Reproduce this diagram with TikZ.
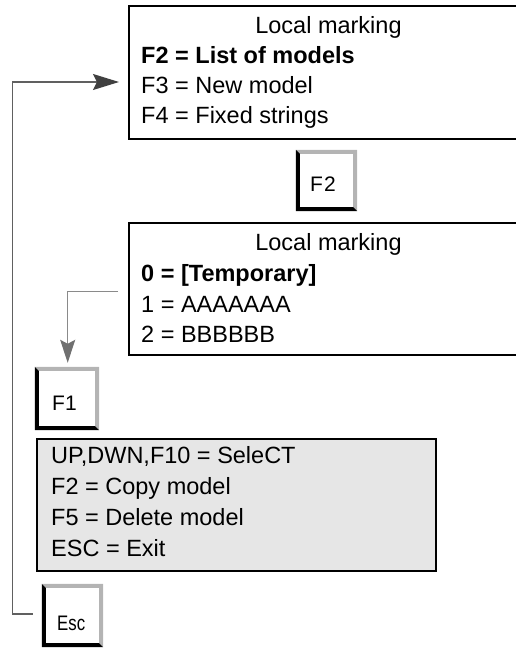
\documentclass[tikz,border=0pt]{standalone}
\usepackage{fontspec}
\usepackage{graphicx}
\setmainfont{Liberation Sans}
\usetikzlibrary{arrows.meta,calc}
\definecolor{keygray}{HTML}{B4B4B4}
\definecolor{panelgray}{HTML}{E6E6E6}
\definecolor{linegray}{HTML}{606060}
\definecolor{tipgray}{HTML}{404040}
\definecolor{linegraylight}{HTML}{8A8A8A}
\definecolor{tipgraylight}{HTML}{707070}
\begin{document}
\begin{tikzpicture}[x=1pt,y=-1pt,
  menubox/.style={draw=black, line width=2pt, fill=white, inner sep=0, anchor=north west},
  panel/.style={draw=black, line width=2pt, fill=panelgray, inner sep=0, anchor=north west},
  txt/.style={font=\fontsize{23.5}{27}\selectfont, inner sep=0, anchor=base west},
  boldtxt/.style={font=\fontsize{23.5}{27}\selectfont\bfseries, inner sep=0, anchor=base west},
  ttl/.style={font=\fontsize{23.5}{27}\selectfont, inner sep=0, anchor=base},
  keybox/.style={fill=white, inner sep=0},
  keytxt/.style={font=\fontsize{21}{24}\selectfont, inner sep=0, anchor=base west},
  conn/.style={line width=1.2pt, draw=linegray, -{Stealth[length=26pt,width=16pt,inset=4pt,color=tipgray]}},
  connlight/.style={line width=1.2pt, draw=linegraylight, -{Stealth[length=23pt,width=15pt,inset=4pt,color=tipgraylight]}},
]
\useasboundingbox (0,0) rectangle (516,648);

% menu boxes
\node[menubox, minimum width=420pt, minimum height=133pt] (m1) at (127.7,5) {};
\node[menubox, minimum width=420pt, minimum height=132.5pt] (m2) at (127.7,221.7) {};
\node[panel, minimum width=399pt, minimum height=132.3pt] (p1) at (36,437.7) {};

% keys
\node[keybox, minimum width=61pt, minimum height=61pt] (f2key) at (326.5,180.5) {};
\node[keybox, minimum width=64pt, minimum height=63pt] (f1key) at (67,398.5) {};
\node[keybox, minimum width=61pt, minimum height=63pt] (esckey) at (72.5,615.5) {};
\foreach \k in {f2key,f1key,esckey}{
  \fill[keygray] (\k.north west) -- (\k.north east) -- (\k.south east)
    -- ($(\k.south east)+(-4,-4)$) -- ($(\k.north east)+(-4,4)$)
    -- ($(\k.north west)+(4,4)$) -- cycle;
  \fill[black] (\k.north west) -- ($(\k.north west)+(4,4)$)
    -- ($(\k.south west)+(4,-4)$) -- ($(\k.south east)+(-4,-4)$)
    -- (\k.south east) -- (\k.south west) -- cycle;
}
\node[keytxt] (f2lbl) at (310,191.5) {F\kern1pt2};
\node[keytxt] (f1lbl) at (52,410.5) {F1};
\node[keytxt] (esclbl) at (57,630.5) {\scalebox{0.8}[1]{Esc}};

% box 1 text
\node[ttl] (m1t) at (328.5,33) {Local marking};
\node[boldtxt] (m1a) at (141,63) {F2 = List of models};
\node[txt] (m1b) at (141,93) {F3 = New model};
\node[txt] (m1c) at (141,123) {F4 = Fixed strings};

% box 2 text
\node[ttl] (m2t) at (328.5,250) {Local marking};
\node[boldtxt] (m2a) at (141,281) {0 = [Temporary]};
\node[txt] (m2b) at (141,312) {1 = AAAAAAA};
\node[txt] (m2c) at (141,342) {2 = BBBBBB};

% panel text
\node[txt] (p1a) at (51,463.5) {UP,DWN,F10 = SeleCT};
\node[txt] (p1b) at (51,494.5) {F2 = Copy model};
\node[txt] (p1c) at (51,525.5) {F5 = Delete model};
\node[txt] (p1d) at (51,556.5) {ESC = Exit};

% connectors
\coordinate (in1) at ($(m1.north west)+(-8.7,77)$);
\coordinate (out1) at ($(esckey.west)+(-9.3,-1.5)$);
\draw[conn] (out1) -- ++(-20.4,0) |- (in1);
\coordinate (out2) at ($(m2.north west)+(-9.7,70)$);
\draw[connlight] (out2) -| ($(f1key.north)+(0.7,-4)$);
\end{tikzpicture}
\end{document}
